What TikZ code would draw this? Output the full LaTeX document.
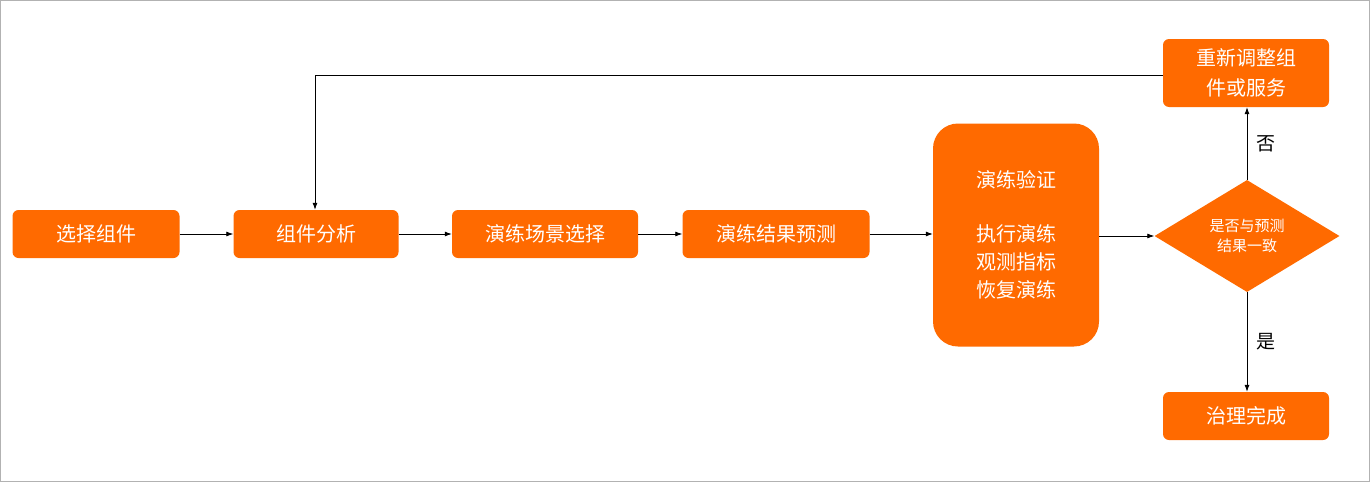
\documentclass[tikz,border=0pt]{standalone}
\usepackage{fontspec}
\setmainfont{Noto Sans CJK SC}
\usetikzlibrary{shapes.geometric,arrows.meta}
\definecolor{org}{HTML}{FF6A00}
\tikzset{
 box/.style={fill=org,rounded corners=6pt,text=white,font=\fontsize{20}{24}\selectfont,inner sep=0pt,align=center},
 arr/.style={-{Latex[length=7pt,width=5pt]},line width=0.8pt},
 lab/.style={font=\fontsize{19}{22}\selectfont}
}
\begin{document}
\begin{tikzpicture}[x=1pt,y=-1pt]
\useasboundingbox (0,0) rectangle (1370,482);
\draw[gray!60] (0.5,0.5) rectangle (1369.5,481.5);
\node[box,minimum width=167pt,minimum height=48pt] (a) at (96,234) {选择组件};
\node[box,minimum width=165pt,minimum height=48pt] (b) at (316,234) {组件分析};
\node[box,minimum width=186pt,minimum height=48pt] (c) at (545,234) {演练场景选择};
\node[box,minimum width=187pt,minimum height=48pt] (d) at (776,234) {演练结果预测};
\node[box,rounded corners=25pt,minimum width=166pt,minimum height=223pt,font=\fontsize{20}{28}\selectfont] (e) at (1016,235) {演练验证\\[26pt]执行演练\\观测指标\\恢复演练};
\node[diamond,fill=org,text=white,minimum width=185pt,minimum height=112pt,inner sep=0pt,aspect=1.65,align=center,font=\fontsize{15}{20}\selectfont] (f) at (1247,236) {是否与预测\\结果一致};
\node[box,minimum width=166pt,minimum height=68pt,font=\fontsize{20}{30}\selectfont] (g) at (1246,73) {重新调整组\\件或服务};
\node[box,minimum width=166pt,minimum height=48pt] (h) at (1246,416) {治理完成};
\coordinate (k) at (315,75);
\draw[arr] (a) -- (b);
\draw[arr] (b) -- (c);
\draw[arr] (c) -- (d);
\draw[arr] (d) -- (e.west|-d);
\draw[arr] (e.east|-f) -- (f.west);
\draw[arr] (f.north) -- node[lab,right=6pt,pos=0.5]{否} (f.north|-g.south);
\draw[arr] (f.south) -- node[lab,right=6pt,pos=0.5]{是} (f.south|-h.north);
\draw[arr] (g.west|-k) -- (k) -- (k|-b.north);
\end{tikzpicture}
\end{document}
